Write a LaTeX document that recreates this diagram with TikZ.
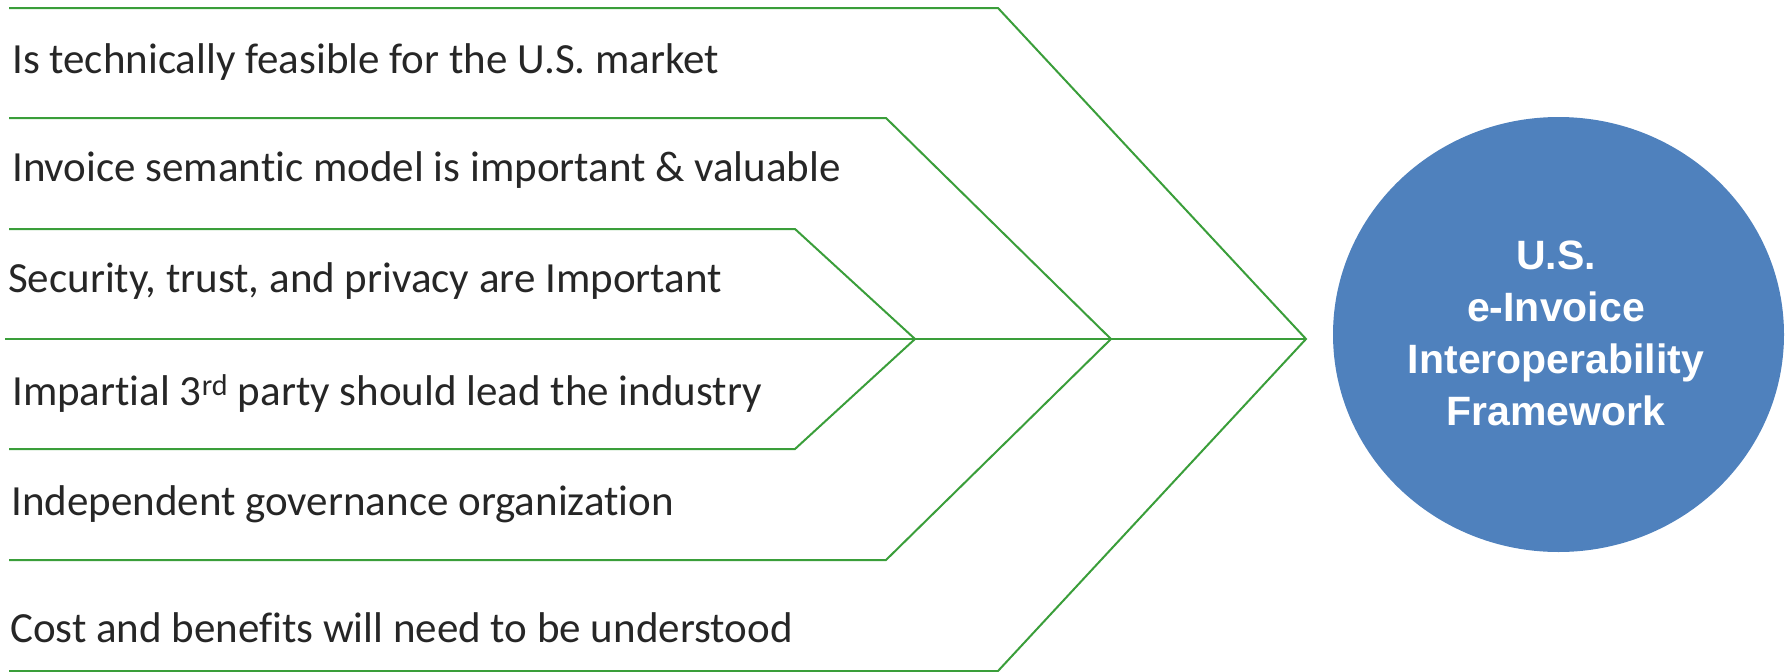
\documentclass[tikz,border=0pt]{standalone}
\usepackage{fontspec}
\setmainfont{Carlito}[Ligatures=NoCommon]
\newfontfamily\headfont{Liberation Sans}
\usetikzlibrary{shapes.geometric}
\definecolor{branchgreen}{RGB}{58,158,58}
\definecolor{hubblue}{RGB}{79,129,189}
\definecolor{itemgray}{RGB}{38,38,38}
\begin{document}
\begin{tikzpicture}[x=1pt,y=-1pt,
  branch/.style={draw=branchgreen,line width=2pt,line join=miter},
  item/.style={anchor=base west,inner sep=0pt,text=itemgray,font=\fontsize{43}{50}\selectfont},
  hub/.style={ellipse,fill=hubblue,draw=none,minimum width=451pt,minimum height=435pt,inner sep=0pt}]
\useasboundingbox (0,0) rectangle (1789,672);

% left ends of the horizontal rails
\coordinate (L1) at (9,8);
\coordinate (L2) at (9,118);
\coordinate (L3) at (9,229);
\coordinate (L0) at (5,339);
\coordinate (L4) at (9,449);
\coordinate (L5) at (9,560);
\coordinate (L6) at (9,671);
% bends
\coordinate (C1) at (998,8);
\coordinate (C2) at (886,118);
\coordinate (C3) at (795,229);
\coordinate (C4) at (795,449);
\coordinate (C5) at (886,560);
\coordinate (C6) at (998,671);
% meeting points on the spine
\coordinate (J1) at (915,339);
\coordinate (J2) at (1111,339);
\coordinate (J3) at (1306,339);

% spine and chevrons
\draw[branch] (L0) -- (J3);
\draw[branch] (L3) -- (C3) -- (J1) -- (C4) -- (L4);
\draw[branch] (L2) -- (C2) -- (J2) -- (C5) -- (L5);
\draw[branch] (L1) -- (C1) -- (J3) -- (C6) -- (L6);

% hub
\node[hub] (hub) at (1558.5,334.5) {};
\node[text=white,align=center,inner sep=0pt,anchor=base,
      font=\headfont\bfseries\fontsize{41}{52}\selectfont] (hubtext) at (1556,425)
  {U.S.\\e-Invoice\\Interoperability\\Framework};

% statements
\node[item] (t1) at (12,73) {Is technically feasible for the U.S. market};
\node[item] (t2) at (12,181) {Invoice semantic model is important \& valuable};
\node[item] (t3) at (8,292) {Security, trust, and privacy are Important};
\node[item] (t4) at (12,405) {Impartial 3\textsuperscript{rd} party should lead the industry};
\node[item] (t5) at (11,515) {Independent governance organization};
\node[item] (t6) at (10,642) {Cost and benefits will need to be understood};
\end{tikzpicture}
\end{document}
